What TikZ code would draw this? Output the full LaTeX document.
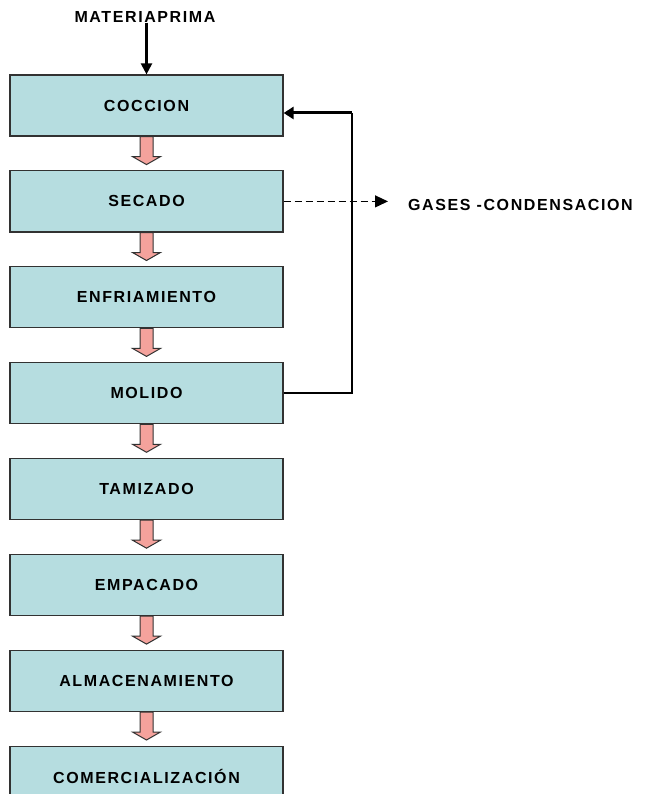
\documentclass[tikz,border=0pt]{standalone}
\usepackage{fontspec}
\setmainfont{Liberation Sans}
\newfontfamily\rotulo[LetterSpace=10]{Liberation Sans Bold}
\usetikzlibrary{positioning,arrows.meta}

\definecolor{cajafondo}{RGB}{182,221,224}
\definecolor{flechafondo}{RGB}{244,162,156}
\definecolor{borde}{RGB}{50,50,50}

% flecha rosada de bloque bajo cada paso
\newcommand{\bajada}[1]{%
  \draw[flecha] ([xshift=-6.5pt]#1.south) -- ++(0,-20pt) -- ++(-7.5pt,0)
    -- ++(14pt,-8pt) -- ++(14pt,8pt) -- ++(-7.5pt,0)
    -- ([xshift=6.5pt]#1.south) -- cycle;}

\begin{document}
\begin{tikzpicture}[
        font=\rotulo\fontsize{16}{19}\selectfont,
        paso/.style={draw=borde, line width=1.2pt, fill=cajafondo,
            minimum width=273pt, minimum height=61pt, inner sep=0pt},
        flecha/.style={draw=borde, line width=1pt, fill=flechafondo},
        entrada/.style={-{Triangle[width=11pt,length=11pt]}, line width=2.2pt},
        retorno/.style={line width=1.6pt},
        salida/.style={dashed, dash pattern=on 7pt off 4pt, line width=1.2pt,
            -{Triangle[width=12pt,length=13pt]}},
    ]
    \useasboundingbox (0,0) rectangle (650pt,-794pt);

    % pasos del proceso
    \node[paso] (coccion) at (146.5pt,-105.5pt) {COCCION};
    \node[paso, below=33.7pt of coccion] (secado) {SECADO};
    \node[paso, below=33.7pt of secado] (enfriamiento) {ENFRIAMIENTO};
    \node[paso, below=33.7pt of enfriamiento] (moldo) {MOLIDO};
    \node[paso, below=33.7pt of moldo] (tamizado) {TAMIZADO};
    \node[paso, below=33.7pt of tamizado] (empacado) {EMPACADO};
    \node[paso, below=33.7pt of empacado] (almacenamiento) {ALMACENAMIENTO};
    \node[paso, below=33.7pt of almacenamiento] (comercial) {COMERCIALIZACIÓN};

    % textos fuera de las cajas
    \node[inner sep=0pt] (materia) at (145pt,-17pt) {MATERIAPRIMA};
    \node[inner sep=0pt, anchor=west] (gases) at (408pt,-205pt) {GASES -CONDENSACION};

    % flechas
    \draw[entrada] (materia.south -| coccion.north) -- (coccion.north);
    \foreach \a in {coccion,secado,enfriamiento,moldo,tamizado,empacado,almacenamiento}
        \bajada{\a};
    \draw[salida] (secado.east) -- (secado.east -| gases.west) [shorten >=20pt];

    \coordinate (vuelta) at (352pt,-113pt);
    \draw[retorno] (moldo.east) -| (vuelta);
    \draw[line width=3pt, -{Triangle[width=12pt,length=10pt]}]
        (vuelta) -- (vuelta -| coccion.east);
\end{tikzpicture}
\end{document}
